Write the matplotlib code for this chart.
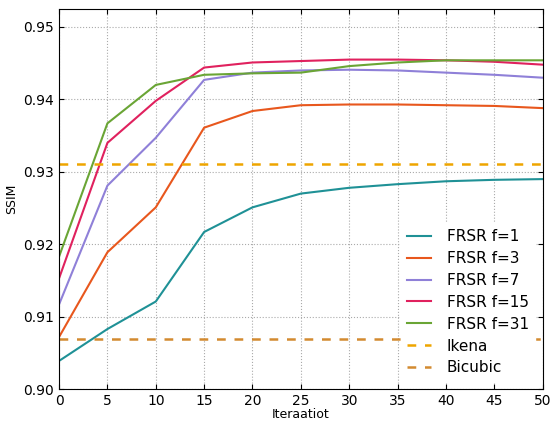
import matplotlib
matplotlib.use("Agg")
import matplotlib.pyplot as plt

# Data
iterations = [0, 5, 10, 15, 20, 25, 30, 35, 40, 45, 50]
frsr_f1 = [0.9039, 0.9083, 0.9121, 0.9217, 0.9251, 0.9270, 0.9278, 0.9283, 0.9287, 0.9289, 0.9290]
frsr_f3 = [0.9072, 0.9189, 0.9251, 0.9361, 0.9384, 0.9392, 0.9393, 0.9393, 0.9392, 0.9391, 0.9388]
frsr_f7 = [0.9117, 0.9281, 0.9347, 0.9427, 0.9437, 0.9440, 0.9441, 0.9440, 0.9437, 0.9434, 0.9430]
frsr_f15 = [0.9153, 0.9340, 0.9398, 0.9444, 0.9451, 0.9453, 0.9455, 0.9455, 0.9454, 0.9452, 0.9448]
frsr_f31 = [0.9183, 0.9367, 0.9420, 0.9434, 0.9436, 0.9437, 0.9446, 0.9451, 0.9454, 0.9454, 0.9454]
ikena = 0.9311
bicubic = 0.9069

series = [("FRSR f=1", frsr_f1, "#1f9196"),
          ("FRSR f=3", frsr_f3, "#e8571d"),
          ("FRSR f=7", frsr_f7, "#8f80d8"),
          ("FRSR f=15", frsr_f15, "#e0215e"),
          ("FRSR f=31", frsr_f31, "#6aa535")]

fig = plt.figure(figsize=(5.52, 4.23), dpi=100)
ax = fig.add_axes([0.107, 0.080, 0.876, 0.899])

for label, vals, col in series:
    ax.plot(iterations, vals, color=col, lw=1.5, label=label)
ax.plot([iterations[0], iterations[-1]], [ikena, ikena], color="#eea500",
        lw=1.8, ls=(0, (3.5, 3.5)), label="Ikena")
ax.plot([iterations[0], iterations[-1]], [bicubic, bicubic], color="#d38a30",
        lw=1.8, ls=(0, (3.5, 3.5)), label="Bicubic")

ax.set_xlim(0, 50)
ax.set_ylim(0.90, 0.9525)
ax.set_xticks(range(0, 51, 5))
ax.set_yticks([0.90, 0.91, 0.92, 0.93, 0.94, 0.95])
ax.set_yticklabels(["0.90", "0.91", "0.92", "0.93", "0.94", "0.95"])
ax.tick_params(direction="in", labelsize=10, top=True, right=True)
ax.grid(True, ls=":", color="#aaaaaa", lw=0.8)
ax.set_xlabel("Iteraatiot", fontsize=9, labelpad=0)
ax.set_ylabel("SSIM", fontsize=9)

leg = ax.legend(loc="lower right", frameon=True, fontsize=11, handlelength=1.6,
                handletextpad=1.0, labelspacing=0.45, bbox_to_anchor=(1.0, 0.0),
                framealpha=1.0, fancybox=False)
leg.get_frame().set_edgecolor("white")

fig.savefig("out.png", dpi=100)
